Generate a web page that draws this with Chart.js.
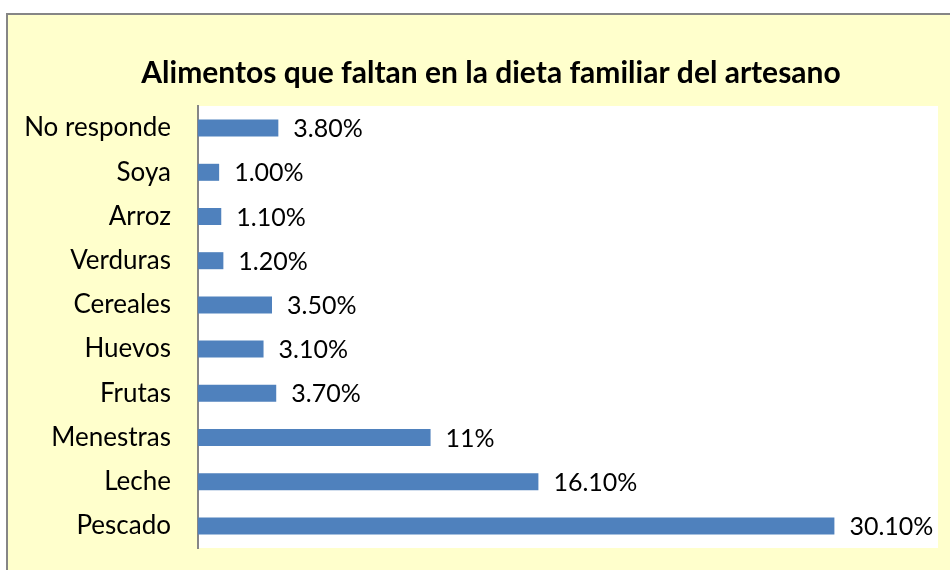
<!DOCTYPE html>
<html>
<head>
<meta charset="utf-8">
<script src="https://cdn.jsdelivr.net/npm/chart.js@4.4.1/dist/chart.umd.min.js"></script>
<style>
    body { margin: 0; background: #ffffff; overflow: hidden; }
    #marco {
        position: absolute;
        left: 6px;
        top: 13px;
        width: 944px;
        height: 557px;
        border-left: 2px solid #868686;
        border-top: 2px solid #868686;
        background: #FFFFCC;
    }
    #grafico { display: block; }
</style>
</head>
<body>
<div id="marco">
    <canvas id="grafico" width="942" height="555"></canvas>
</div>
<script>
// datos del grafico
let categorias = ["No responde", "Soya", "Arroz", "Verduras", "Cereales", "Huevos", "Frutas", "Menestras", "Leche", "Pescado"];
let valores = [3.8, 1.0, 1.1, 1.2, 3.5, 3.1, 3.7, 11, 16.1, 30.1];
let etiquetas = ["3.80%", "1.00%", "1.10%", "1.20%", "3.50%", "3.10%", "3.70%", "11%", "16.10%", "30.10%"];
let titulo = "Alimentos que faltan en la dieta familiar del artesano";

let fuente = "Lato";

// fondo blanco del area de trazado + titulo (un poco corrido a la derecha como en el original)
const fondoArea = {
    id: 'fondoArea',
    beforeDraw(chart) {
        const ctx = chart.ctx;
        const a = chart.chartArea;
        ctx.save();
        ctx.fillStyle = '#ffffff';
        ctx.fillRect(a.left, a.top, a.right - a.left, a.bottom - a.top);

        ctx.font = 'bold 30px ' + fuente;
        ctx.fillStyle = '#000000';
        ctx.textAlign = 'center';
        ctx.textBaseline = 'middle';
        ctx.fillText(titulo, 483, 58);
        ctx.restore();
    }
};

// etiquetas de valor a la derecha de cada barra
const etiquetasBarras = {
    id: 'etiquetasBarras',
    afterDatasetsDraw(chart) {
        const ctx = chart.ctx;
        const meta = chart.getDatasetMeta(0);
        ctx.save();
        ctx.font = '25px ' + fuente;
        ctx.fillStyle = '#000000';
        ctx.textAlign = 'left';
        ctx.textBaseline = 'middle';
        meta.data.forEach(function(bar, i) {
            ctx.fillText(etiquetas[i], bar.x + 15, bar.y + 1);
        });
        ctx.restore();
    }
};

const ctx = document.getElementById('grafico').getContext('2d');
const grafico = new Chart(ctx, {
    type: 'bar',
    data: {
        labels: categorias,
        datasets: [{
            data: valores,
            backgroundColor: '#4F81BD',
            borderWidth: 0,
            barPercentage: 0.385,
            categoryPercentage: 1
        }]
    },
    options: {
        indexAxis: 'y',
        responsive: false,
        animation: false,
        layout: {
            padding: { left: 0, right: 12, top: 91, bottom: 22 }
        },
        scales: {
            x: {
                display: false,
                min: 0,
                max: 35
            },
            y: {
                grid: { display: false, drawTicks: false },
                border: { display: true, color: '#868686', width: 2 },
                ticks: {
                    color: '#000000',
                    padding: 27,
                    font: { family: fuente, size: 26 }
                },
                afterFit: function(scale) {
                    scale.width = 190;
                    // sin margen extra arriba/abajo por las etiquetas
                    scale.paddingTop = 0;
                    scale.paddingBottom = 0;
                }
            }
        },
        plugins: {
            legend: { display: false },
            tooltip: { enabled: false },
            title: { display: false }
        }
    },
    plugins: [fondoArea, etiquetasBarras]
});
</script>
</body>
</html>
